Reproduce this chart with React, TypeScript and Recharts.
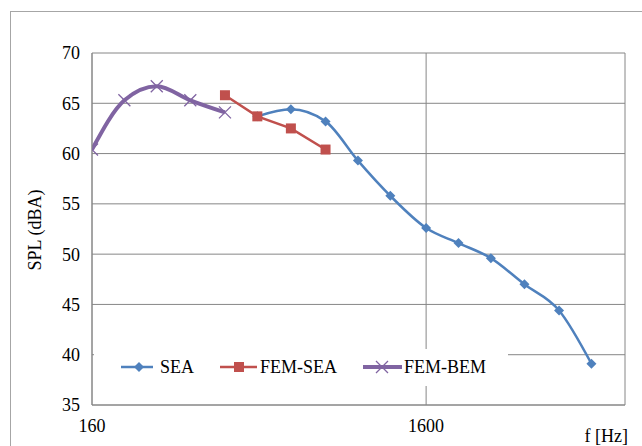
import { LineChart, Line, XAxis, YAxis, CartesianGrid, Label } from 'recharts'

// 1/3-octave band centres (Hz) and SPL (dBA) per method
const seaFreq = [500, 630, 800, 1000, 1250, 1600, 2000, 2500, 3150, 4000, 5000]
const seaSpl = [63.7, 64.4, 63.2, 59.3, 55.8, 52.6, 51.1, 49.6, 47.0, 44.4, 39.1]

const femSeaFreq = [400, 500, 630, 800]
const femSeaSpl = [65.8, 63.7, 62.5, 60.4]

const femBemFreq = [160, 200, 250, 315, 400]
const femBemSpl = [60.4, 65.3, 66.7, 65.3, 64.1]

const xTicks = [160, 1600]
const yTicks = [35, 40, 45, 50, 55, 60, 65, 70]

const BLUE = '#4F81BD'
const RED = '#C0504D'
const PURPLE = '#8064A2'
const GRID = '#868686'
const FONT = '"Liberation Serif", "Times New Roman", serif'

const toRows = (freq: number[], spl: number[]) => freq.map((f, i) => ({ f, spl: spl[i] }))

const seaData = toRows(seaFreq, seaSpl)
const femSeaData = toRows(femSeaFreq, femSeaSpl)
const femBemData = toRows(femBemFreq, femBemSpl)

function Diamond({ cx, cy, fill }: { cx: number; cy: number; fill: string }) {
  const r = 5
  return <path d={`M${cx},${cy - r}L${cx + r},${cy}L${cx},${cy + r}L${cx - r},${cy}Z`} fill={fill} />
}

function Square({ cx, cy, fill }: { cx: number; cy: number; fill: string }) {
  const r = 5
  return <rect x={cx - r} y={cy - r} width={2 * r} height={2 * r} fill={fill} />
}

function Cross({ cx, cy, stroke }: { cx: number; cy: number; stroke: string }) {
  const r = 6
  return (
    <path
      d={`M${cx - r},${cy - r}L${cx + r},${cy + r}M${cx - r},${cy + r}L${cx + r},${cy - r}`}
      stroke={stroke}
      strokeWidth={1.3}
      fill="none"
    />
  )
}

// legend sits inside the plot on a white box, like the Excel original
function LegendBox() {
  const cy = 18
  const text = { fontFamily: FONT, fontSize: 18, fill: '#000' }
  return (
    <svg
      width={414}
      height={37}
      style={{ position: 'absolute', left: 94, top: 349, background: '#fff', display: 'block' }}
    >
      <line x1={27} x2={59} y1={cy} y2={cy} stroke={BLUE} strokeWidth={2.5} />
      <Diamond cx={45} cy={cy} fill={BLUE} />
      <text x={66} y={cy + 6} {...text}>SEA</text>
      <line x1={126} x2={163} y1={cy} y2={cy} stroke={RED} strokeWidth={2.5} />
      <Square cx={145} cy={cy} fill={RED} />
      <text x={166} y={cy + 6} {...text}>FEM-SEA</text>
      <line x1={269} x2={308} y1={cy} y2={cy} stroke={PURPLE} strokeWidth={4} />
      <Cross cx={288} cy={cy} stroke={PURPLE} />
      <text x={310} y={cy + 6} {...text}>FEM-BEM</text>
    </svg>
  )
}

export default function App() {
  return (
    <div
      style={{
        position: 'relative',
        width: 642,
        height: 446,
        overflow: 'hidden',
        background: '#fff',
        fontFamily: FONT,
      }}
    >
      <style>{'body{margin:0}'}</style>
      <div
        style={{
          position: 'absolute',
          left: 10,
          top: 11,
          width: 700,
          height: 500,
          borderLeft: '1.5px solid #A6A6A6',
          borderTop: '1.5px solid #A6A6A6',
        }}
      />
      <LineChart
        width={642}
        height={446}
        margin={{ top: 53, right: 17, bottom: 0, left: 0 }}
        style={{ position: 'absolute', left: 0, top: 0 }}
      >
        <CartesianGrid stroke={GRID} strokeWidth={1} />
        <XAxis
          dataKey="f"
          type="number"
          scale="log"
          domain={[160, 6300]}
          ticks={xTicks}
          allowDataOverflow
          height={41}
          tickLine={false}
          tickMargin={8}
          axisLine={{ stroke: GRID }}
          tick={{ fontFamily: FONT, fontSize: 18, fill: '#000' }}
        >
          <Label
            content={() => (
              <text x={628} y={442} textAnchor="end" fontFamily={FONT} fontSize={18} fill="#000">
                f [Hz]
              </text>
            )}
          />
        </XAxis>
        <YAxis
          type="number"
          domain={[35, 70]}
          ticks={yTicks}
          width={92}
          tickLine={false}
          tickMargin={6}
          axisLine={{ stroke: GRID }}
          tick={{ fontFamily: FONT, fontSize: 18, fill: '#000' }}
        >
          <Label
            content={() => (
              <text
                x={41}
                y={230}
                textAnchor="middle"
                transform="rotate(-90 41 230)"
                fontFamily={FONT}
                fontSize={18}
                fill="#000"
              >
                SPL (dBA)
              </text>
            )}
          />
        </YAxis>
        <Line
          data={seaData}
          dataKey="spl"
          name="SEA"
          type="monotone"
          stroke={BLUE}
          strokeWidth={2.5}
          dot={(p: any) => <Diamond key={`s${p.index}`} cx={p.cx} cy={p.cy} fill={BLUE} />}
          isAnimationActive={false}
        />
        <Line
          data={femSeaData}
          dataKey="spl"
          name="FEM-SEA"
          type="linear"
          stroke={RED}
          strokeWidth={2.5}
          dot={(p: any) => <Square key={`r${p.index}`} cx={p.cx} cy={p.cy} fill={RED} />}
          isAnimationActive={false}
        />
        <Line
          data={femBemData}
          dataKey="spl"
          name="FEM-BEM"
          type="monotone"
          stroke={PURPLE}
          strokeWidth={4}
          dot={(p: any) => <Cross key={`p${p.index}`} cx={p.cx} cy={p.cy} stroke={PURPLE} />}
          isAnimationActive={false}
        />
      </LineChart>
      <LegendBox />
    </div>
  )
}
